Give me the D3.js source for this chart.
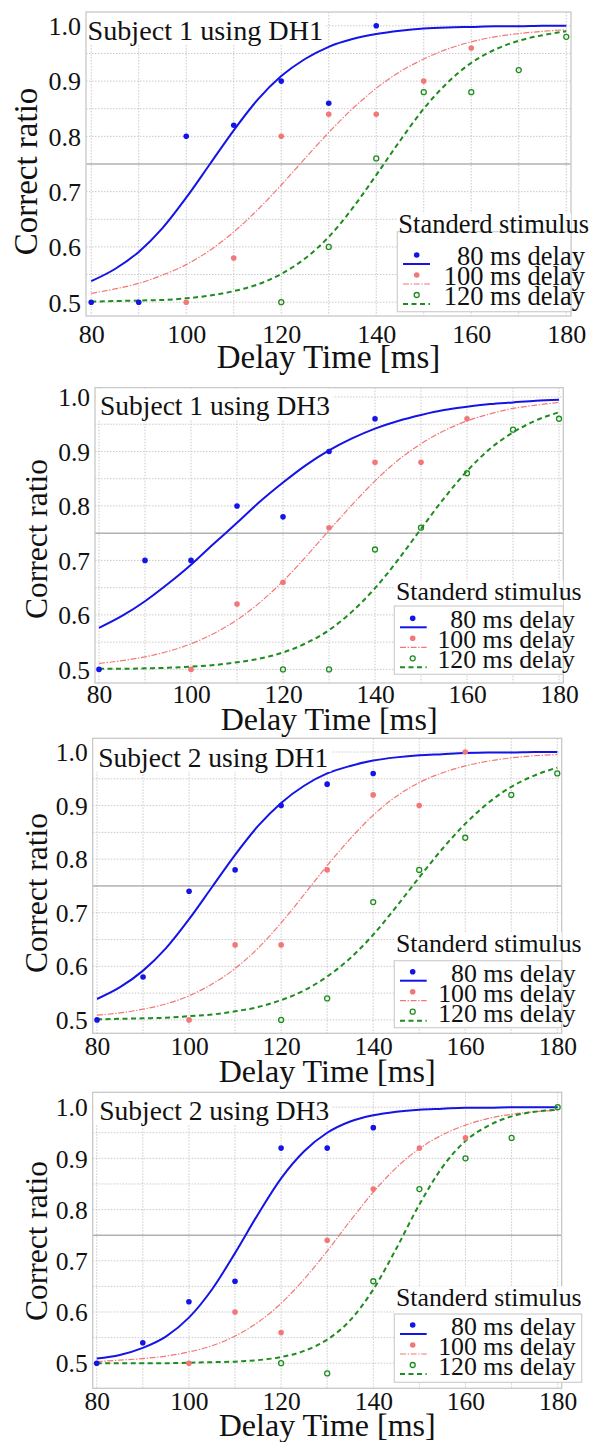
<!DOCTYPE html>
<html>
<head>
<meta charset="utf-8">
<script src="https://cdn.jsdelivr.net/npm/d3@7"></script>
<style>
  html, body { margin: 0; padding: 0; background: #fff; }
  svg { display: block; }
</style>
</head>
<body>
<script>
// ---- data -------------------------------------------------------------
// delays (ms) at which each standard stimulus was tested
const delays80  = [80, 90, 100, 110, 120, 130, 140];
const delays100 = [100, 110, 120, 130, 140, 150, 160];
const delays120 = [120, 130, 140, 150, 160, 170, 180];
// delays at which the fitted psychometric curves are sampled
const fitDelays = [80, 85, 90, 95, 100, 105, 110, 115, 120, 125, 130,
                   135, 140, 145, 150, 155, 160, 165, 170, 175, 180];

// Subject 1 using DH1
const s1dh1Obs80  = [0.50, 0.50, 0.80, 0.82, 0.90, 0.86, 1.00];
const s1dh1Obs100 = [0.50, 0.58, 0.80, 0.84, 0.84, 0.90, 0.96];
const s1dh1Obs120 = [0.50, 0.60, 0.76, 0.88, 0.88, 0.92, 0.98];
const s1dh1Fit80  = [0.538, 0.560, 0.591, 0.634, 0.689, 0.750, 0.811, 0.866, 0.909, 0.940, 0.962,
                     0.976, 0.985, 0.991, 0.995, 0.997, 0.998, 0.999, 0.999, 1.000, 1.000];
const s1dh1Fit100 = [0.516, 0.524, 0.534, 0.549, 0.568, 0.594, 0.627, 0.667, 0.712, 0.760, 0.807,
                     0.850, 0.887, 0.917, 0.940, 0.958, 0.971, 0.980, 0.986, 0.990, 0.993];
const s1dh1Fit120 = [0.501, 0.502, 0.503, 0.504, 0.507, 0.512, 0.520, 0.532, 0.551, 0.579, 0.618,
                     0.670, 0.730, 0.792, 0.850, 0.897, 0.933, 0.957, 0.973, 0.983, 0.990];

// Subject 1 using DH3
const s1dh3Obs80  = [0.50, 0.70, 0.70, 0.80, 0.78, 0.90, 0.96];
const s1dh3Obs100 = [0.50, 0.62, 0.66, 0.76, 0.88, 0.88, 0.96];
const s1dh3Obs120 = [0.50, 0.50, 0.72, 0.76, 0.86, 0.94, 0.96];
const s1dh3Fit80  = [0.576, 0.598, 0.625, 0.657, 0.692, 0.731, 0.769, 0.808, 0.843, 0.875, 0.902,
                     0.924, 0.942, 0.956, 0.967, 0.976, 0.982, 0.987, 0.990, 0.993, 0.995];
const s1dh3Fit100 = [0.511, 0.516, 0.523, 0.533, 0.547, 0.566, 0.591, 0.623, 0.662, 0.707, 0.755,
                     0.802, 0.846, 0.884, 0.914, 0.938, 0.956, 0.969, 0.979, 0.985, 0.990];
const s1dh3Fit120 = [0.501, 0.501, 0.502, 0.503, 0.505, 0.508, 0.513, 0.520, 0.531, 0.548, 0.572,
                     0.606, 0.649, 0.701, 0.758, 0.814, 0.864, 0.905, 0.935, 0.957, 0.972];

// Subject 2 using DH1
const s2dh1Obs80  = [0.50, 0.58, 0.74, 0.78, 0.90, 0.94, 0.96];
const s2dh1Obs100 = [0.50, 0.64, 0.64, 0.78, 0.92, 0.90, 1.00];
const s2dh1Obs120 = [0.50, 0.54, 0.72, 0.78, 0.84, 0.92, 0.96];
const s2dh1Fit80  = [0.539, 0.561, 0.592, 0.634, 0.688, 0.748, 0.808, 0.862, 0.905, 0.937, 0.960,
                     0.974, 0.984, 0.990, 0.994, 0.996, 0.998, 0.999, 0.999, 1.000, 1.000];
const s2dh1Fit100 = [0.509, 0.513, 0.520, 0.530, 0.545, 0.567, 0.596, 0.634, 0.681, 0.734, 0.788,
                     0.838, 0.882, 0.917, 0.943, 0.961, 0.974, 0.983, 0.989, 0.993, 0.995];
const s2dh1Fit120 = [0.501, 0.502, 0.503, 0.504, 0.507, 0.510, 0.516, 0.524, 0.537, 0.555, 0.581,
                     0.615, 0.659, 0.711, 0.766, 0.819, 0.866, 0.905, 0.935, 0.956, 0.971];

// Subject 2 using DH3
const s2dh3Obs80  = [0.50, 0.54, 0.62, 0.66, 0.92, 0.92, 0.96];
const s2dh3Obs100 = [0.50, 0.60, 0.56, 0.74, 0.84, 0.92, 0.94];
const s2dh3Obs120 = [0.50, 0.48, 0.66, 0.84, 0.90, 0.94, 1.00];
const s2dh3Fit80  = [0.509, 0.516, 0.530, 0.552, 0.589, 0.644, 0.715, 0.791, 0.861, 0.914, 0.950,
                     0.972, 0.984, 0.991, 0.995, 0.997, 0.999, 0.999, 1.000, 1.000, 1.000];
const s2dh3Fit100 = [0.503, 0.506, 0.509, 0.514, 0.522, 0.534, 0.553, 0.580, 0.617, 0.664, 0.719,
                     0.778, 0.834, 0.882, 0.919, 0.946, 0.965, 0.978, 0.986, 0.991, 0.994];
const s2dh3Fit120 = [0.500, 0.500, 0.500, 0.500, 0.501, 0.502, 0.503, 0.506, 0.512, 0.524, 0.546,
                     0.584, 0.644, 0.724, 0.810, 0.883, 0.934, 0.964, 0.982, 0.991, 0.995];

const panelTitles = ["Subject 1 using DH1", "Subject 1 using DH3",
                     "Subject 2 using DH1", "Subject 2 using DH3"];
const seriesNames = ["80 ms delay", "100 ms delay", "120 ms delay"];
const legendTitle = "Standerd stimulus";
const xAxisTitle = "Delay Time [ms]";
const yAxisTitle = "Correct ratio";
const xTickValues = [80, 100, 120, 140, 160, 180];
const yTickValues = [0.5, 0.6, 0.7, 0.8, 0.9, 1.0];
const xGridValues = [80, 90, 100, 110, 120, 130, 140, 150, 160, 170, 180];
const yMinorValues = [0.55, 0.65, 0.75, 0.85, 0.95];
const thresholdRatio = 0.75;

// ---- assemble panels from the arrays --------------------------------------
const panelData = [
  [[delays80, s1dh1Obs80, s1dh1Fit80], [delays100, s1dh1Obs100, s1dh1Fit100], [delays120, s1dh1Obs120, s1dh1Fit120]],
  [[delays80, s1dh3Obs80, s1dh3Fit80], [delays100, s1dh3Obs100, s1dh3Fit100], [delays120, s1dh3Obs120, s1dh3Fit120]],
  [[delays80, s2dh1Obs80, s2dh1Fit80], [delays100, s2dh1Obs100, s2dh1Fit100], [delays120, s2dh1Obs120, s2dh1Fit120]],
  [[delays80, s2dh3Obs80, s2dh3Fit80], [delays100, s2dh3Obs100, s2dh3Fit100], [delays120, s2dh3Obs120, s2dh3Fit120]]
];

// ---- layout ----------------------------------------------------------------
const layouts = [
  { left: 86, top: 12, right: 571, bottom: 316, xDom: [78.9, 181.0], yDom: [0.475, 1.025],
    tickFont: 26, xTickBase: 343, xLabelBase: 367.5, xLabelFont: 33,
    yLabelX: 37, yLabelY: 171.5, yLabelFont: 33,
    titleX: 87.5, titleBase: 39.5, titleFont: 28.2,
    legend: { x0: 397.3, x1: 571, y0: 231.7, y1: 311.7, titleX: 398.3, titleBase: 233.3,
              entryBase: 265, textEnd: 585, markerX: 416.7, lineX0: 403, lineX1: 430, font: 26.5 } },
  { left: 95, top: 387.7, right: 563.3, bottom: 683, xDom: [79.13, 180.93], yDom: [0.475, 1.017],
    tickFont: 25.5, xTickBase: 703, xLabelBase: 730, xLabelFont: 32,
    yLabelX: 46.7, yLabelY: 539, yLabelFont: 31.5,
    titleX: 100, titleBase: 415, titleFont: 27.5,
    legend: { x0: 394.3, x1: 563.3, y0: 606, y1: 674.3, titleX: 396, titleBase: 600,
              entryBase: 628.3, textEnd: 575, markerX: 412.7, lineX0: 400, lineX1: 426.7, font: 25.8 } },
  { left: 92.7, top: 738.3, right: 561.7, bottom: 1033.3, xDom: [79.06, 180.96], yDom: [0.475, 1.0256],
    tickFont: 25.5, xTickBase: 1055, xLabelBase: 1081.7, xLabelFont: 32,
    yLabelX: 46.7, yLabelY: 893, yLabelFont: 31.5,
    titleX: 98.3, titleBase: 766.7, titleFont: 27.5,
    legend: { x0: 394.3, x1: 561.7, y0: 960.7, y1: 1027.7, titleX: 396, titleBase: 951.7,
              entryBase: 981.7, textEnd: 575.7, markerX: 412.7, lineX0: 400, lineX1: 426.7, font: 25.8 } },
  { left: 92.7, top: 1092.3, right: 561.7, bottom: 1388.3, xDom: [79.13, 180.87], yDom: [0.451, 1.029],
    tickFont: 25.5, xTickBase: 1410, xLabelBase: 1435.5, xLabelFont: 32,
    yLabelX: 46.7, yLabelY: 1241, yLabelFont: 31.5,
    titleX: 99.3, titleBase: 1120, titleFont: 27.5,
    legend: { x0: 394.3, x1: 581.7, y0: 1314, y1: 1382.3, titleX: 396, titleBase: 1305.7,
              entryBase: 1335, textEnd: 575.7, markerX: 412.7, lineX0: 400, lineX1: 426.7, font: 25.8 } }
];

const seriesStyles = [
  { color: "#1414e6", width: 2.0, dash: null, filled: true },
  { color: "#f27878", width: 1.2, dash: "6,1.6,1.4,1.6", filled: true },
  { color: "#1e8c1e", width: 2.0, dash: "5,3.5", filled: false }
];

const FONT = "'Liberation Serif', 'Times New Roman', Times, serif";
const svg = d3.select("body").append("svg")
  .attr("width", 595).attr("height", 1442)
  .style("font-family", FONT);

function drawMarker(sel, style, cx, cy) {
  sel.append("circle")
    .attr("cx", cx).attr("cy", cy)
    .attr("r", style.filled ? 2.8 : 2.5)
    .attr("fill", style.filled ? style.color : "none")
    .attr("stroke", style.filled ? "none" : style.color)
    .attr("stroke-width", 1.3);
}

layouts.forEach((p, i) => {
  const x = d3.scaleLinear().domain(p.xDom).range([p.left, p.right]);
  const y = d3.scaleLinear().domain(p.yDom).range([p.bottom, p.top]);
  const g = svg.append("g");

  const clipId = "plot-clip-" + i;
  g.append("clipPath").attr("id", clipId).append("rect")
    .attr("x", p.left).attr("y", p.top)
    .attr("width", p.right - p.left).attr("height", p.bottom - p.top);

  // grid
  const grid = g.append("g").attr("stroke", "#c4c4c4").attr("stroke-width", 0.9)
    .attr("stroke-dasharray", "1.5,1.5");
  grid.selectAll("line.vx").data(xGridValues).join("line")
    .attr("x1", d => x(d)).attr("x2", d => x(d))
    .attr("y1", p.top).attr("y2", p.bottom);
  grid.selectAll("line.hy").data(yTickValues.concat(yMinorValues.filter(v => v !== thresholdRatio))).join("line")
    .attr("x1", p.left).attr("x2", p.right)
    .attr("y1", d => y(d)).attr("y2", d => y(d));

  // 75 % threshold
  g.append("line")
    .attr("x1", p.left).attr("x2", p.right)
    .attr("y1", y(thresholdRatio)).attr("y2", y(thresholdRatio))
    .attr("stroke", "#8a8a8a").attr("stroke-width", 1);

  // frame
  g.append("rect")
    .attr("x", p.left).attr("y", p.top)
    .attr("width", p.right - p.left).attr("height", p.bottom - p.top)
    .attr("fill", "none").attr("stroke", "#c8c8c8").attr("stroke-width", 1.3);

  // axes (labels only)
  const xAxis = g.append("g").attr("transform", `translate(0,${p.bottom})`)
    .call(d3.axisBottom(x).tickValues(xTickValues).tickSize(0).tickFormat(d3.format("d")))
    .attr("font-family", null).attr("font-size", null);
  xAxis.select(".domain").remove();
  xAxis.selectAll("text")
    .attr("y", p.xTickBase - p.bottom).attr("dy", null)
    .attr("fill", "#111").style("font-size", p.tickFont + "px").style("font-family", FONT);

  const yAxis = g.append("g").attr("transform", `translate(${p.left},0)`)
    .call(d3.axisLeft(y).tickValues(yTickValues).tickSize(0).tickPadding(5).tickFormat(d3.format(".1f")))
    .attr("font-family", null).attr("font-size", null);
  yAxis.select(".domain").remove();
  yAxis.selectAll("text")
    .attr("dy", "0.34em")
    .attr("fill", "#111").style("font-size", p.tickFont + "px").style("font-family", FONT);

  // axis titles
  g.append("text")
    .attr("x", (p.left + p.right) / 2).attr("y", p.xLabelBase)
    .attr("text-anchor", "middle").attr("fill", "#111")
    .style("font-size", p.xLabelFont + "px").text(xAxisTitle);
  g.append("text")
    .attr("transform", `translate(${p.yLabelX},${p.yLabelY}) rotate(-90)`)
    .attr("text-anchor", "middle").attr("fill", "#111")
    .style("font-size", p.yLabelFont + "px").text(yAxisTitle);

  // fitted curves and observations
  const plot = g.append("g").attr("clip-path", `url(#${clipId})`);
  const line = d3.line().x(d => x(d[0])).y(d => y(d[1])).curve(d3.curveMonotoneX);
  panelData[i].forEach((s, k) => {
    const st = seriesStyles[k];
    const fit = fitDelays.map((d, j) => [d, s[2][j]]);
    plot.append("path").datum(fit)
      .attr("d", line)
      .attr("fill", "none").attr("stroke", st.color)
      .attr("stroke-width", st.width)
      .attr("stroke-dasharray", st.dash);
  });
  panelData[i].forEach((s, k) => {
    const st = seriesStyles[k];
    s[0].forEach((d, j) => drawMarker(plot, st, x(d), y(s[1][j])));
  });

  // panel title
  const title = g.append("text")
    .attr("x", p.titleX).attr("y", p.titleBase).attr("fill", "#111")
    .style("font-size", p.titleFont + "px").text(panelTitles[i]);
  const tb = title.node().getBBox();
  g.insert("rect", () => title.node())
    .attr("x", p.left + 1).attr("y", p.top + 1)
    .attr("width", tb.x + tb.width + 3 - (p.left + 1))
    .attr("height", p.titleBase + 5 - (p.top + 1))
    .attr("fill", "#fff");

  // legend
  const L = p.legend;
  const lg = g.append("g");
  lg.append("rect")
    .attr("x", L.x0).attr("y", L.titleBase - L.font * 0.75)
    .attr("width", L.x1 - L.x0).attr("height", L.y0 - (L.titleBase - L.font * 0.75))
    .attr("fill", "#fff");
  lg.append("rect")
    .attr("x", L.x0).attr("y", L.y0)
    .attr("width", L.x1 - L.x0).attr("height", L.y1 - L.y0)
    .attr("fill", "#fff").attr("stroke", "#cfcfcf").attr("stroke-width", 1.2);
  lg.append("text")
    .attr("x", L.titleX).attr("y", L.titleBase).attr("fill", "#111")
    .style("font-size", L.font + "px").text(legendTitle);
  seriesNames.forEach((name, k) => {
    const st = seriesStyles[k];
    const base = L.entryBase + k * 20;
    drawMarker(lg, st, L.markerX, base - 10);
    lg.append("line")
      .attr("x1", L.lineX0).attr("x2", L.lineX1)
      .attr("y1", base - 1).attr("y2", base - 1)
      .attr("stroke", st.color).attr("stroke-width", st.width)
      .attr("stroke-dasharray", st.dash);
    lg.append("text")
      .attr("x", L.textEnd).attr("y", base)
      .attr("text-anchor", "end").attr("fill", "#111")
      .style("font-size", L.font + "px").text(name);
  });
});
</script>
</body>
</html>
